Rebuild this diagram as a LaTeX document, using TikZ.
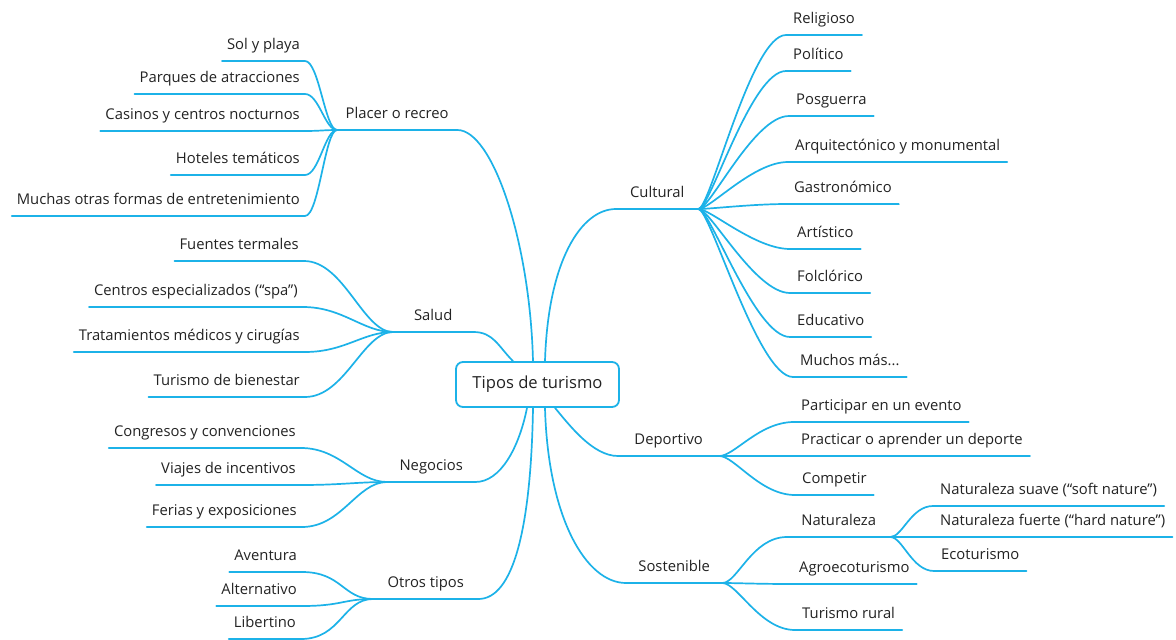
\documentclass[tikz,border=0pt]{standalone}
\usepackage{fontspec}
\setmainfont{Open Sans}
\definecolor{tb}{RGB}{28,178,232}
\definecolor{tx}{RGB}{35,35,35}
\begin{document}
\begin{tikzpicture}[x=1pt,y=-1pt,
 br/.style={draw=tb,line width=1.7pt,line cap=round,line join=round},
 lbl/.style={font=\fontsize{14.8}{16}\selectfont, text=tx, inner ysep=7pt, text height=11pt, text depth=4pt},
 leafL/.style={lbl,anchor=south east,inner xsep=5pt},
 leafR/.style={lbl,anchor=south west,inner xsep=7pt},
 cat/.style={lbl,anchor=south west,inner xsep=0pt},
]
\useasboundingbox (0,0) rectangle (1176,640);
\fill[white] (0,0) rectangle (1176,640);
\node[draw=tb, line width=1.8pt, rounded corners=7pt, minimum width=163pt, minimum height=45pt, font=\fontsize{16.6}{18}\selectfont, text=tx, inner sep=0pt] (root) at (537.5,384.5) {Tipos de turismo};
% categories
\node[cat, minimum width=120pt] (placer) at (337,130) {Placer o recreo};
\node[cat, minimum width=80pt] (salud) at (393,332) {Salud};
\node[cat, minimum width=88pt] (negocios) at (387,482) {Negocios};
\node[cat, minimum width=105pt] (otros) at (373,599) {Otros tipos};
\node[cat, minimum width=82pt] (cultural) at (616,209) {Cultural};
\node[cat, minimum width=101pt] (deportivo) at (618,456) {Deportivo};
\node[cat, minimum width=96pt] (sostenible) at (626,583) {Sostenible};
\node[cat, minimum width=103pt] (naturaleza) at (787,537) {Naturaleza};
% left leaves
\node[leafL] (sol) at (305,61) {Sol y playa};
\node[leafL] (parques) at (305,94) {Parques de atracciones};
\node[leafL] (casinos) at (305,131) {Casinos y centros nocturnos};
\node[leafL] (hoteles) at (305,175) {Hoteles temáticos};
\node[leafL] (muchas) at (305,216) {Muchas otras formas de entretenimiento};
\node[leafL] (fuentes) at (304,261) {Fuentes termales};
\node[leafL] (centros) at (303,307) {Centros especializados (“spa”)};
\node[leafL] (trat) at (305,352) {Tratamientos médicos y cirugías};
\node[leafL] (bienestar) at (305,397) {Turismo de bienestar};
\node[leafL] (congresos) at (301,448) {Congresos y convenciones};
\node[leafL] (viajes) at (301,485) {Viajes de incentivos};
\node[leafL] (ferias) at (302,527) {Ferias y exposiciones};
\node[leafL] (aventura) at (302,572) {Aventura};
\node[leafL] (alternativo) at (302,606) {Alternativo};
\node[leafL] (libertino) at (301,639) {Libertino};
% right leaves
\node[leafR] (religioso) at (786,35) {Religioso};
\node[leafR] (politico) at (786,71) {Político};
\node[leafR] (posguerra) at (789,116) {Posguerra};
\node[leafR] (arqui) at (788,162) {Arquitectónico y monumental};
\node[leafR] (gastro) at (787,204) {Gastronómico};
\node[leafR] (artistico) at (790,249) {Artístico};
\node[leafR] (folclorico) at (790,293) {Folclórico};
\node[leafR] (educativo) at (790,337) {Educativo};
\node[leafR] (muchosmas) at (793,377) {Muchos más...};
\node[leafR] (participar) at (794,422) {Participar en un evento};
\node[leafR] (practicar) at (794,456) {Practicar o aprender un deporte};
\node[leafR] (competir) at (795,495) {Competir};
\node[leafR] (agro) at (792,584) {Agroecoturismo};
\node[leafR] (rural) at (795,630) {Turismo rural};
\node[leafR] (suave) at (933,506) {Naturaleza suave (“soft nature”)};
\node[leafR] (fuerte) at (933,537) {Naturaleza fuerte (“hard nature”)};
\node[leafR] (eco) at (934,571) {Ecoturismo};
% category to root
\draw[br] (placer.south west) -- (placer.south east) .. controls +(35,0) and +(-3,-120) .. ([xshift=-4.5pt]root.north);
\draw[br] (salud.south west) -- (salud.south east) .. controls +(20,0) and +(-15,-15) .. ([xshift=-24.5pt]root.north);
\draw[br] ([xshift=7.5pt]root.north) .. controls +(3,-100) and +(-35,0) .. (cultural.south west) -- (cultural.south east);
\draw[br] ([xshift=17.5pt]root.south) .. controls +(15,18) and +(-25,0) .. (deportivo.south west) -- (deportivo.south east);
\draw[br] ([xshift=7.5pt]root.south) .. controls +(3,110) and +(-40,0) .. (sostenible.south west) -- (sostenible.south east);
\draw[br] ([xshift=-10.5pt]root.south) .. controls +(-8,40) and +(25,0) .. (negocios.south east) -- (negocios.south west);
\draw[br] ([xshift=-4.5pt]root.south) .. controls +(-2,120) and +(35,0) .. (otros.south east) -- (otros.south west);
% leaves
\foreach \n in {sol,parques,casinos,hoteles,muchas}
  \draw[br] (placer.south west) .. controls +(-12,0) and +(14,0) .. (\n.south east) -- (\n.south west);
\foreach \n in {fuentes,centros,trat,bienestar}
  \draw[br] (salud.south west) .. controls +(-30,0) and +(40,0) .. (\n.south east) -- (\n.south west);
\foreach \n in {congresos,viajes,ferias}
  \draw[br] (negocios.south west) .. controls +(-30,0) and +(40,0) .. (\n.south east) -- (\n.south west);
\foreach \n in {aventura,alternativo,libertino}
  \draw[br] (otros.south west) .. controls +(-30,0) and +(40,0) .. (\n.south east) -- (\n.south west);
\foreach \n in {religioso,politico,posguerra,arqui,gastro,artistico,folclorico,educativo,muchosmas}
  \draw[br] (cultural.south east) .. controls +(12,0) and +(-35,0) .. (\n.south west) -- (\n.south east);
\foreach \n in {participar,practicar,competir}
  \draw[br] (deportivo.south east) .. controls +(15,0) and +(-35,0) .. (\n.south west) -- (\n.south east);
\foreach \n in {naturaleza,agro,rural}
  \draw[br] (sostenible.south east) .. controls +(15,0) and +(-35,0) .. (\n.south west) -- (\n.south east);
\foreach \n in {suave,fuerte,eco}
  \draw[br] (naturaleza.south east) .. controls +(12,0) and +(-22,0) .. (\n.south west) -- (\n.south east);
\end{tikzpicture}
\end{document}
